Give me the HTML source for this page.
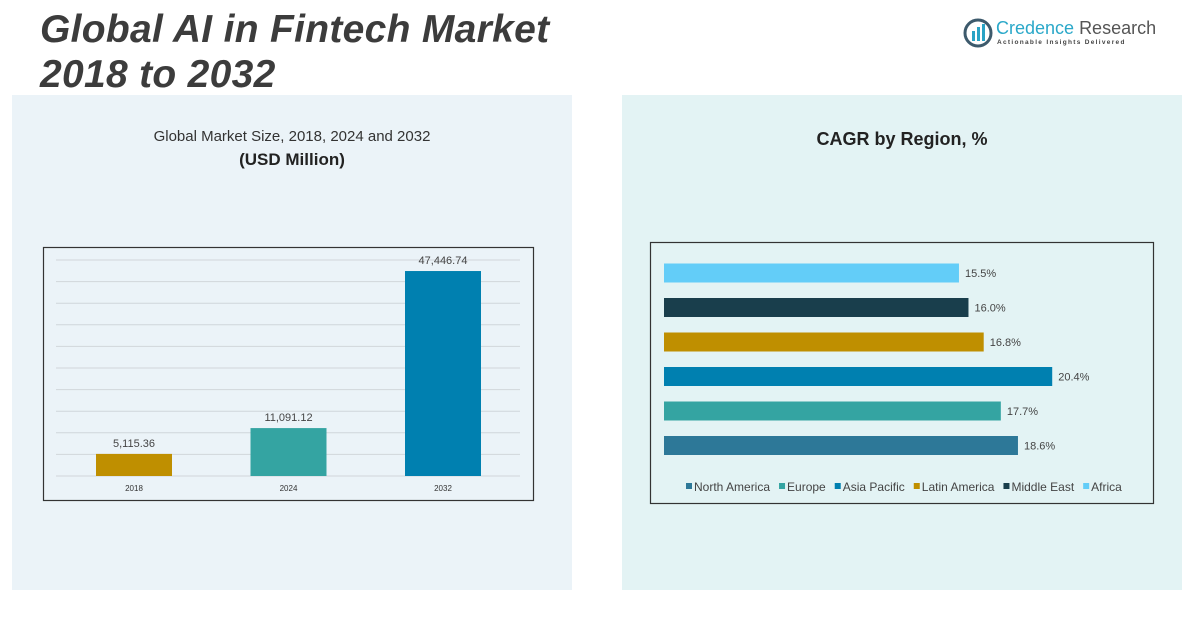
<!DOCTYPE html>
<html><head><meta charset="utf-8"><style>
body{margin:0;width:1202px;height:621px;background:#fff;position:relative;overflow:hidden;font-family:"Liberation Sans",sans-serif}
.abs{position:absolute}
</style></head><body>
<div class="abs" style="left:12px;top:95px;width:560px;height:495px;background:#ebf3f8"></div>
<div class="abs" style="left:622px;top:95px;width:560px;height:495px;background:#e3f3f4"></div>
<div class="abs" style="left:40px;top:7px;font-size:39px;font-weight:bold;font-style:italic;color:#3c3c3c;line-height:45px;letter-spacing:0.3px">Global AI in Fintech Market<br>2018 to 2032</div>
<div class="abs" style="left:963px;top:16px;width:200px;height:34px">
<svg width="30" height="30" style="position:absolute;left:0;top:2px"><circle cx="15" cy="15" r="13" fill="none" stroke="#3d5a6c" stroke-width="3"/><rect x="9" y="13" width="3" height="10" fill="#29a3c5"/><rect x="14" y="9" width="3" height="14" fill="#29a3c5"/><rect x="19" y="6" width="3" height="17" fill="#29a3c5"/></svg>
<div class="abs" style="left:33px;top:2px;font-size:18px;color:#2aa8c9;white-space:nowrap">Credence <span style="color:#555">Research</span></div>
<div class="abs" style="left:34px;top:23px;font-size:6.5px;letter-spacing:1.3px;color:#444;font-weight:bold;white-space:nowrap">Actionable Insights Delivered</div>
</div>
<div class="abs" style="left:12px;width:560px;top:128px;text-align:center;font-size:15px;color:#333">Global Market Size, 2018, 2024 and 2032</div>
<div class="abs" style="left:12px;width:560px;top:150px;text-align:center;font-size:17px;font-weight:bold;color:#222">(USD Million)</div>
<div class="abs" style="left:622px;width:560px;top:129px;text-align:center;font-size:18px;font-weight:bold;color:#222">CAGR by Region, %</div>
<svg class="abs" style="left:0;top:0" width="1202" height="621" id="svg"></svg>
<script>
const years=['2018','2024','2032'];
const sizes=[5115.36,11091.12,47446.74];
const sizeLabels=['5,115.36','11,091.12','47,446.74'];
const yearColors=['#bf8f00','#34a4a2','#0080b0'];
const regions=['Africa','Middle East','Latin America','Asia Pacific','Europe','North America'];
const cagr=[15.5,16.0,16.8,20.4,17.7,18.6];
const regionColors=['#63cdf8','#193e4c','#bf8f00','#0080b0','#34a4a2','#2d7898'];
const legendOrder=['North America','Europe','Asia Pacific','Latin America','Middle East','Africa'];
const NS='http://www.w3.org/2000/svg';const svg=document.getElementById('svg');
function mk(t,a,txt){const e=document.createElementNS(NS,t);for(const k in a)e.setAttribute(k,a[k]);if(txt!==undefined)e.textContent=txt;svg.appendChild(e);return e;}
// left chart
let f=mk('rect',{x:43.5,y:247.5,width:490,height:253,fill:'none',stroke:'#333','stroke-width':1.2});

const y0=476,yMax=50000,ph=216;const ys=v=>y0-v/yMax*ph;
for(let v=0;v<=yMax;v+=5000){let g=mk('line',{x1:56,x2:520,y1:ys(v),y2:ys(v),stroke:'#d0d6da','stroke-width':1});}
const xs=i=>134+i*154.5;
years.forEach((yr,i)=>{
let b=mk('rect',{x:xs(i)-38,y:ys(sizes[i]),width:76,height:y0-ys(sizes[i]),fill:yearColors[i]});

let l=mk('text',{x:xs(i),y:ys(sizes[i])-7,'text-anchor':'middle','font-size':11,fill:'#444'},sizeLabels[i]);

let t=mk('text',{x:xs(i),y:491,'text-anchor':'middle','font-size':8,fill:'#333'},yr);

});
// right chart
f=mk('rect',{x:650.5,y:242.5,width:503,height:261,fill:'none',stroke:'#333','stroke-width':1.2});

const x0=664,pxPer=19.03;const xr=v=>x0+v*pxPer;
regions.forEach((r,i)=>{const cy=273+i*34.5;
let b=mk('rect',{x:x0,y:cy-9.5,width:xr(cagr[i])-x0,height:19,fill:regionColors[i]});

let l=mk('text',{x:xr(cagr[i])+6,y:cy+4,'font-size':11,fill:'#444'},cagr[i].toFixed(1)+'%');

});
let lx=686;
legendOrder.forEach(n=>{const c=regionColors[regions.indexOf(n)];
let s=mk('rect',{x:lx,y:483,width:6,height:6,fill:c});
let t=mk('text',{x:lx+8,y:491,'font-size':12,fill:'#444'},n);
lx+=8+t.getComputedTextLength()+9;});
</script>
</body></html>
